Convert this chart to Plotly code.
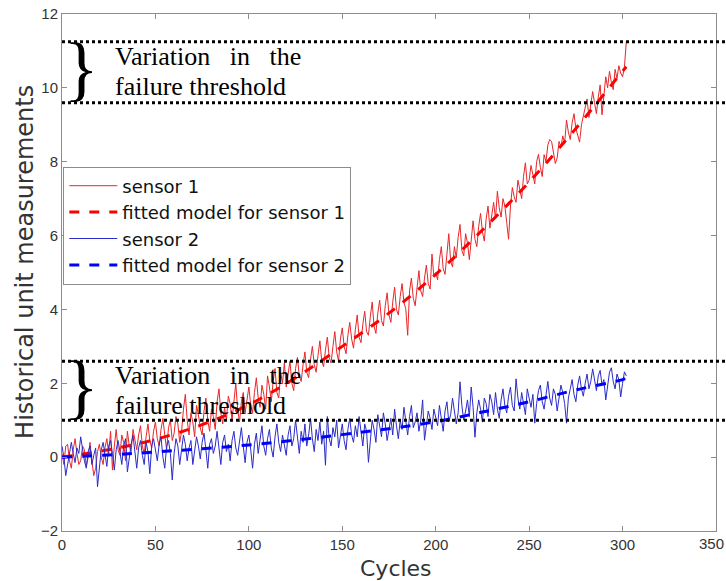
import plotly.graph_objects as go

# Cycle index for the two sensor traces
cycles = list(range(0, 303))

# Sensor 1 readings, one per cycle
sensor1 = [
    0.1, -0.2, 0.3, 0.35, -0.1, -0.3, 0.2, 0.5, 0.1, -0.2,
    -0.1, 0.3, 0.2, -0.25, 0.0, 0.4, -0.1, -0.5, -0.3, 0.15,
    0.35, 0.0, -0.2, 0.25, 0.5, 0.1, 0.7, -0.35, 0.3, 0.75,
    0.2, 0.05, 0.6, 0.4, -0.1, 0.7, 0.3, 0.15, 0.75, 0.45,
    0.2, 0.6, 0.85, 0.3, 0.1, 0.55, 0.9, 0.45, 0.25, 0.7,
    0.95, 0.5, 0.3, 0.75, 1.05, 0.6, 0.2, 0.8, 1.0, 0.45,
    0.65, 1.1, 0.9, 0.4, 0.7, 1.3, 1.7, 1.0, 0.6, 1.2,
    0.95, 0.55, 1.4, 1.15, 0.8, 0.6, 1.25, 1.6, 1.0, 0.7,
    1.3, 1.1, 0.75, 1.5, 1.85, 1.2, 0.9, 1.35, 1.0, 1.65,
    1.45, 1.0, 1.6, 2.0, 1.3, 0.95, 1.5, 1.75, 1.2, 1.55,
    1.9, 1.4, 1.2, 1.75, 2.15, 1.6, 1.35, 1.95, 1.7, 1.3,
    2.2, 1.9, 1.5, 2.05, 2.4, 1.75, 1.6, 2.3, 2.0, 2.55,
    1.9, 2.25, 2.6, 2.0, 1.8, 2.4, 2.7, 2.2, 2.05, 2.5,
    2.85, 2.3, 2.15, 2.65, 3.0, 2.5, 2.3, 2.75, 3.15, 2.6,
    2.45, 2.9, 3.25, 2.7, 2.55, 3.0, 3.4, 2.85, 2.6, 3.2,
    3.5, 3.0, 2.8, 3.3, 3.65, 3.2, 2.95, 3.45, 3.85, 3.25,
    3.1, 3.6, 3.95, 3.4, 3.3, 3.8, 4.2, 3.55, 3.35, 3.9,
    4.25, 3.7, 3.55, 4.1, 4.45, 3.85, 3.65, 4.2, 4.6, 4.0,
    3.85, 4.35, 4.7, 4.2, 4.0, 3.3, 4.5, 4.85, 4.3, 4.1,
    4.6, 5.05, 4.5, 4.35, 4.85, 5.2, 4.7, 4.55, 5.5, 4.9,
    5.0, 4.8, 5.35, 5.7, 5.1, 4.95, 5.5, 6.05, 5.3, 5.15,
    5.7, 5.4, 5.95, 6.3, 5.6, 5.45, 6.05, 5.8, 5.35, 6.0,
    6.4, 5.9, 5.7, 6.25, 6.6, 6.1, 5.85, 6.45, 6.8, 6.2,
    6.5, 6.9, 6.45, 7.2, 6.75, 6.5, 7.0, 6.8, 6.35, 5.9,
    6.8, 7.3, 7.05, 6.9, 7.5, 7.25, 7.0, 7.6, 7.97, 7.4,
    7.5, 7.9, 7.65, 7.4, 8.0, 8.2, 7.85, 7.6, 8.19, 8.0,
    8.45, 8.6, 8.55, 8.3, 7.95, 8.1, 8.55, 8.4, 8.7, 8.5,
    9.13, 8.8, 8.6, 9.05, 9.3, 8.9, 8.7, 8.53, 9.0, 9.25,
    9.4, 9.7, 9.2, 9.55, 9.9, 9.6, 9.3, 9.75, 10.08, 9.27,
    9.9, 10.3, 10.0, 10.45, 10.15, 9.95, 10.5, 10.25, 10.6, 10.4,
    10.3, 10.57, 11.25,
]

# Sensor 2 readings, one per cycle
sensor2 = [
    0.3, 0.0, -0.5, -0.2, 0.2, 0.4, 0.1, -0.15, 0.25, 0.1,
    0.55, 0.2, -0.1, -0.3, 0.15, 0.3, -0.2, 0.05, 0.25, -0.8,
    -0.3, 0.2, 0.4, 0.0, -0.25, 0.3, 0.45, 0.1, -0.35, 0.2,
    0.45, 0.15, -0.2, 0.3, 0.5, -0.4, 0.05, 0.35, 0.6, 0.1,
    -0.3, 0.25, 0.45, 0.05, -0.2, 0.4, 0.15, -0.45, 0.3, 0.5,
    0.2, -0.1, 0.35, 0.55, 0.0, -0.3, 0.3, 0.45, 0.1, -0.62,
    0.1, 0.5, 0.3, -0.2, 0.2, 0.6, 0.35, -0.1, 0.25, 0.45,
    -0.2, 0.15, 0.55, 0.3, -0.05, 0.4, 0.65, 0.2, -0.3, 0.35,
    0.5, 0.1, 0.3, 0.7, 0.2, -0.2, 0.4, 0.6, 0.15, 0.35,
    -0.1, 0.45, 0.7, 0.25, 0.05, 0.5, 0.8, 0.3, -0.15, 0.4,
    0.6, 0.2, -0.3, 0.35, 0.65, 0.1, 0.45, 0.85, 0.3, 0.05,
    0.5, 0.75, 0.25, 0.0, 0.55, 0.9, 0.4, 0.15, 0.6, 0.35,
    0.05, 0.6, 0.85, 0.3, 0.5, 1.0, 0.45, 0.1, 0.7, 0.4,
    0.9, 0.3, 0.6, 1.05, 0.5, 0.15, 0.75, 0.45, 0.95, 0.35,
    0.7, -0.22, 1.1, 0.5, 0.3, 0.8, 0.55, 1.0, 0.25, 0.65,
    0.9, 0.45, 0.2, 0.75, 1.05, 0.6, 0.4, 0.85, 0.55, 1.1,
    0.65, 0.3, 0.9, 0.7, -0.14, 0.5, 1.0, 0.75, 0.4, 1.15,
    0.8, 0.55, 1.2, 0.9, 0.45, 0.75, 1.05, 0.6, 1.3, 0.85,
    0.5, 1.0, 0.75, 1.35, 0.9, 0.6, 1.1, 1.4, 0.8, 0.95,
    1.2, 0.7, 1.0, 1.55, 0.46, 0.9, 1.25, 1.05, 0.75, 1.3,
    1.1, 0.85, 1.4, 1.0, 0.7, 1.25, 1.5, 0.95, 1.15, 1.6,
    1.3, 0.9, 1.2, 2.04, 1.4, 1.0, 1.25, 1.55, 1.1, 1.9,
    1.35, 0.54, 1.2, 1.55, 1.3, 0.95, 1.6, 1.45, 1.1, 1.7,
    1.5, 1.15, 1.75, 1.3, 1.05, 1.55, 1.85, 1.4, 1.2, 1.65,
    1.9, 1.4, 1.25, 2.12, 1.6, 1.3, 1.75, 1.5, 1.15, 1.85,
    1.6, 1.35, 1.7, 0.92, 1.45, 1.8, 1.95, 1.5, 1.3, 1.75,
    2.05, 1.6, 1.4, 1.85, 1.7, 1.25, 1.55, 1.95, 1.75, 1.45,
    0.92, 1.6, 1.85, 2.1, 1.7, 1.5, 1.95, 2.2, 1.85, 1.65,
    2.0, 2.25, 1.85, 2.05, 2.39, 2.1, 1.8, 2.2, 2.35, 1.95,
    2.1, 1.55, 2.0, 2.3, 2.42, 2.05, 1.85, 2.25, 2.1, 1.63,
    2.0, 2.31, 2.2,
]

# Fitted degradation models, sampled along the cycle axis
fit_cycles = [0, 25, 50, 75, 100, 125, 150, 175, 200, 225, 250, 275, 300, 302]
fit1 = [0.0, 0.2, 0.48, 0.88, 1.42, 2.15, 3.0, 3.9, 4.95, 6.15, 7.45, 8.9, 10.45, 10.57]
fit2 = [0.0, 0.06, 0.14, 0.23, 0.33, 0.46, 0.61, 0.77, 0.96, 1.22, 1.5, 1.82, 2.1, 2.14]

# Failure threshold bands (lower and upper bounds)
band1 = [9.6, 11.25]
band2 = [1.0, 2.6]

x_ticks = [0, 50, 100, 150, 200, 250, 300, 350]
y_ticks = [-2, 0, 2, 4, 6, 8, 10, 12]

fig = go.Figure()
fig.add_trace(go.Scatter(x=cycles, y=sensor1, mode="lines", name="sensor 1",
                         line=dict(color="#e8262a", width=1)))
fig.add_trace(go.Scatter(x=fit_cycles, y=fit1, mode="lines", name="fitted model for sensor 1",
                         line=dict(color="#ff0000", width=3, dash="10px,10px"),
                         line_shape="spline"))
fig.add_trace(go.Scatter(x=cycles, y=sensor2, mode="lines", name="sensor 2",
                         line=dict(color="#2b2bc8", width=1)))
fig.add_trace(go.Scatter(x=fit_cycles, y=fit2, mode="lines", name="fitted model for sensor 2",
                         line=dict(color="#0000ff", width=3, dash="10px,10px"),
                         line_shape="spline"))

# Dotted threshold lines run across the full width, past the right axis
shapes = []
for lvl in band1 + band2:
    shapes.append(dict(type="line", xref="paper", yref="y", x0=0, x1=1.02, y0=lvl, y1=lvl,
                       line=dict(color="black", width=3, dash="dot")))

annotations = []
serif = "Liberation Serif, Times New Roman, serif"
sans = "Liberation Sans, Arial, sans-serif"
wide_sans = "DejaVu Sans, Liberation Sans, sans-serif"
for lo, hi in (band1, band2):
    mid = (lo + hi) / 2
    annotations.append(dict(x=0.0, y=mid + 0.12, xref="paper", yref="y", text="}",
                            showarrow=False, xanchor="left", yanchor="middle",
                            font=dict(family=serif, size=72, color="black")))
    annotations.append(dict(x=0.078, y=mid + 0.42, xref="paper", yref="y",
                            text="Variation&nbsp;&nbsp; in&nbsp;&nbsp; the",
                            showarrow=False, xanchor="left", yanchor="middle", align="left",
                            font=dict(family=serif, size=26, color="black")))
    annotations.append(dict(x=0.078, y=mid - 0.4, xref="paper", yref="y",
                            text="failure threshold",
                            showarrow=False, xanchor="left", yanchor="middle", align="left",
                            font=dict(family=serif, size=26, color="black")))

# Axis titles placed as rotated / plain text
annotations.append(dict(x=-0.057, y=0.52, xref="paper", yref="paper",
                        text="Historical unit measurements", textangle=-90,
                        showarrow=False, xanchor="center", yanchor="middle",
                        font=dict(family=wide_sans, size=24, color="#333333")))
annotations.append(dict(x=0.511, y=-0.072, xref="paper", yref="paper",
                        text="Cycles", showarrow=False, xanchor="center", yanchor="middle",
                        font=dict(family=wide_sans, size=22, color="#333333")))

# Last x tick label sits at the window edge; keep it inside the page
x_ticktext = [str(v) for v in x_ticks[:-1]] + [""]
annotations.append(dict(x=1.0153, y=0, xref="paper", yref="paper", text=str(x_ticks[-1]),
                        showarrow=False, xanchor="right", yanchor="top", yshift=-2,
                        font=dict(family=sans, size=15, color="#333333")))

axis_common = dict(showline=True, linecolor="#8c8c8c", linewidth=1, mirror="ticks",
                   ticks="inside", ticklen=5, tickcolor="#8c8c8c", showgrid=False,
                   zeroline=False, automargin=False,
                   tickfont=dict(family=sans, size=15, color="#333333"))

fig.update_layout(
    width=726, height=581,
    margin=dict(l=62, r=10, t=14, b=50),
    paper_bgcolor="white", plot_bgcolor="white",
    font=dict(family=sans, color="#222222"),
    xaxis=dict(range=[0, 350], tickvals=x_ticks, ticktext=x_ticktext, **axis_common),
    yaxis=dict(range=[-2, 12], tickvals=y_ticks, **axis_common),
    legend=dict(x=0.002, y=0.705, xanchor="left", yanchor="top",
                bgcolor="white", bordercolor="#8c8c8c", borderwidth=1,
                font=dict(family=wide_sans, size=18, color="#111111"), tracegroupgap=0,
                itemwidth=48),
    shapes=shapes,
    annotations=annotations,
    showlegend=True,
)

fig.write_html("out.html")
